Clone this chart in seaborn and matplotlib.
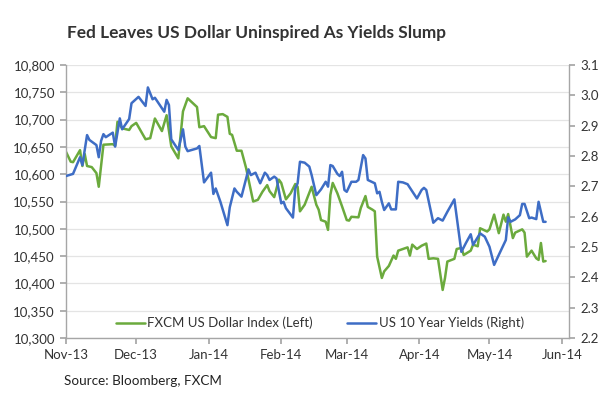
import pandas as pd
import seaborn as sns
import matplotlib.dates as mdates
from matplotlib import pyplot as plt
from matplotlib.ticker import FuncFormatter, MultipleLocator

# FXCM US Dollar Index (left axis)
usd_dates = [
    "2013-11-01", "2013-11-03", "2013-11-04", "2013-11-07", "2013-11-08", "2013-11-09",
    "2013-11-10", "2013-11-12", "2013-11-14", "2013-11-15", "2013-11-17", "2013-11-21",
    "2013-11-22", "2013-11-23", "2013-11-25", "2013-11-28", "2013-11-29", "2013-12-01",
    "2013-12-05", "2013-12-07", "2013-12-09", "2013-12-12", "2013-12-14", "2013-12-16",
    "2013-12-19", "2013-12-21", "2013-12-23", "2013-12-27", "2013-12-28", "2013-12-30",
    "2014-01-02", "2014-01-04", "2014-01-05", "2014-01-07", "2014-01-09", "2014-01-10",
    "2014-01-11", "2014-01-13", "2014-01-15", "2014-01-17", "2014-01-20", "2014-01-22",
    "2014-01-24", "2014-01-26", "2014-01-27", "2014-01-29", "2014-01-31", "2014-02-01",
    "2014-02-03", "2014-02-05", "2014-02-07", "2014-02-08", "2014-02-09", "2014-02-11",
    "2014-02-14", "2014-02-16", "2014-02-17", "2014-02-18", "2014-02-20", "2014-02-21",
    "2014-02-22", "2014-02-23", "2014-02-25", "2014-02-27", "2014-03-01", "2014-03-02",
    "2014-03-03", "2014-03-06", "2014-03-07", "2014-03-09", "2014-03-10", "2014-03-12",
    "2014-03-13", "2014-03-14", "2014-03-16", "2014-03-17", "2014-03-19", "2014-03-21",
    "2014-03-22", "2014-03-23", "2014-03-25", "2014-03-27", "2014-03-28", "2014-03-29",
    "2014-03-31", "2014-04-02", "2014-04-04", "2014-04-05", "2014-04-07", "2014-04-09",
    "2014-04-11", "2014-04-12", "2014-04-13", "2014-04-16", "2014-04-17", "2014-04-19",
    "2014-04-20", "2014-04-23", "2014-04-24", "2014-04-26", "2014-04-27", "2014-04-30",
    "2014-05-01", "2014-05-03", "2014-05-05", "2014-05-07", "2014-05-08", "2014-05-09",
    "2014-05-11", "2014-05-12", "2014-05-15", "2014-05-16", "2014-05-17", "2014-05-19",
    "2014-05-21", "2014-05-22", "2014-05-23", "2014-05-24", "2014-05-25",
]
usd_index = [
    10641, 10623, 10622, 10644, 10615, 10637, 10615, 10613, 10602, 10577, 10654, 10655,
    10652, 10696, 10684, 10681, 10688, 10694, 10664, 10666, 10702, 10679, 10708, 10651,
    10629, 10715, 10739, 10723, 10686, 10688, 10668, 10666, 10709, 10710, 10705, 10674,
    10672, 10643, 10643, 10611, 10550, 10553, 10568, 10580, 10569, 10558, 10590, 10584,
    10554, 10565, 10582, 10577, 10532, 10544, 10577, 10544, 10535, 10516, 10513, 10498,
    10562, 10584, 10565, 10541, 10516, 10515, 10522, 10521, 10538, 10560, 10540, 10535,
    10532, 10449, 10410, 10422, 10432, 10451, 10445, 10460, 10463, 10466, 10451, 10471,
    10463, 10469, 10473, 10445, 10446, 10445, 10388, 10410, 10440, 10445, 10463, 10465,
    10452, 10460, 10471, 10468, 10501, 10495, 10499, 10526, 10492, 10526, 10513, 10527,
    10483, 10493, 10499, 10493, 10449, 10460, 10446, 10443, 10474, 10440, 10441,
]

# US 10 Year Yields (right axis)
yield_dates = [
    "2013-11-01", "2013-11-04", "2013-11-07", "2013-11-08", "2013-11-10", "2013-11-11",
    "2013-11-14", "2013-11-15", "2013-11-16", "2013-11-17", "2013-11-18", "2013-11-21",
    "2013-11-22", "2013-11-24", "2013-11-25", "2013-11-28", "2013-11-29", "2013-12-02",
    "2013-12-05", "2013-12-06", "2013-12-08", "2013-12-09", "2013-12-13", "2013-12-14",
    "2013-12-15", "2013-12-16", "2013-12-19", "2013-12-21", "2013-12-22", "2013-12-23",
    "2013-12-27", "2013-12-28", "2013-12-30", "2014-01-02", "2014-01-03", "2014-01-04",
    "2014-01-06", "2014-01-09", "2014-01-10", "2014-01-12", "2014-01-13", "2014-01-15",
    "2014-01-18", "2014-01-19", "2014-01-21", "2014-01-23", "2014-01-25", "2014-01-26",
    "2014-01-27", "2014-01-29", "2014-01-30", "2014-02-01", "2014-02-02", "2014-02-03",
    "2014-02-06", "2014-02-07", "2014-02-08", "2014-02-09", "2014-02-11", "2014-02-13",
    "2014-02-14", "2014-02-16", "2014-02-18", "2014-02-20", "2014-02-21", "2014-02-22",
    "2014-02-23", "2014-02-25", "2014-02-26", "2014-02-27", "2014-02-28", "2014-03-01",
    "2014-03-03", "2014-03-05", "2014-03-06", "2014-03-08", "2014-03-09", "2014-03-10",
    "2014-03-13", "2014-03-14", "2014-03-15", "2014-03-16", "2014-03-17", "2014-03-19",
    "2014-03-20", "2014-03-22", "2014-03-23", "2014-03-25", "2014-03-27", "2014-03-31",
    "2014-04-02", "2014-04-03", "2014-04-04", "2014-04-07", "2014-04-09", "2014-04-11",
    "2014-04-13", "2014-04-16", "2014-04-19", "2014-04-21", "2014-04-23", "2014-04-24",
    "2014-04-27", "2014-04-29", "2014-05-01", "2014-05-03", "2014-05-05", "2014-05-08",
    "2014-05-09", "2014-05-10", "2014-05-12", "2014-05-14", "2014-05-15", "2014-05-16",
    "2014-05-18", "2014-05-19", "2014-05-21", "2014-05-22", "2014-05-24", "2014-05-25",
]
yields_10y = [
    2.734, 2.741, 2.796, 2.770, 2.869, 2.853, 2.836, 2.796, 2.850, 2.872, 2.862, 2.877,
    2.831, 2.924, 2.888, 2.922, 2.974, 2.995, 2.965, 3.026, 2.987, 2.992, 2.946, 2.985,
    2.968, 2.855, 2.820, 2.888, 2.831, 2.816, 2.825, 2.833, 2.713, 2.745, 2.675, 2.693,
    2.649, 2.572, 2.631, 2.693, 2.682, 2.666, 2.756, 2.737, 2.745, 2.710, 2.745, 2.737,
    2.721, 2.732, 2.726, 2.644, 2.649, 2.628, 2.597, 2.693, 2.710, 2.781, 2.778, 2.765,
    2.737, 2.671, 2.690, 2.715, 2.699, 2.770, 2.767, 2.741, 2.734, 2.748, 2.688, 2.682,
    2.715, 2.715, 2.721, 2.803, 2.792, 2.721, 2.710, 2.677, 2.682, 2.649, 2.622, 2.644,
    2.624, 2.624, 2.715, 2.713, 2.707, 2.660, 2.688, 2.695, 2.688, 2.580, 2.595, 2.587,
    2.616, 2.657, 2.484, 2.514, 2.542, 2.507, 2.545, 2.534, 2.501, 2.441, 2.474, 2.523,
    2.598, 2.583, 2.591, 2.605, 2.642, 2.642, 2.595, 2.597, 2.592, 2.649, 2.583, 2.583,
]

usd_label = "FXCM US Dollar Index (Left)"
yield_label = "US 10 Year Yields (Right)"
month_ticks = ["2013-11-01", "2013-12-01", "2014-01-01", "2014-02-01",
               "2014-03-01", "2014-04-01", "2014-05-01", "2014-06-01"]

GREEN = "#6BAA3D"
BLUE = "#3E6DC5"
AXIS_GREY = "#A6A6A6"
TEXT = "#333333"

usd = pd.DataFrame({"date": pd.to_datetime(usd_dates), "value": usd_index})
yld = pd.DataFrame({"date": pd.to_datetime(yield_dates), "value": yields_10y})

sns.set_theme(style="white")
plt.rcParams["font.family"] = ["Lato", "DejaVu Sans"]

fig = plt.figure(figsize=(6.15, 4.11), dpi=100)
ax = fig.add_axes([66 / 615, 1 - 338 / 411, (569 - 66) / 615, (338 - 65) / 411])
ax2 = ax.twinx()

sns.lineplot(data=usd, x="date", y="value", ax=ax, color=GREEN, lw=1.8, label=usd_label)
sns.lineplot(data=yld, x="date", y="value", ax=ax2, color=BLUE, lw=1.8, label=yield_label)

ax.set_xlim(pd.Timestamp("2013-11-01"), pd.Timestamp("2014-06-04"))
ax.set_ylim(10300, 10800)
ax2.set_ylim(2.2, 3.1)
ax.yaxis.set_major_locator(MultipleLocator(50))
ax2.yaxis.set_major_locator(MultipleLocator(0.1))
ax.yaxis.set_major_formatter(FuncFormatter(lambda v, p: f"{v:,.0f}"))
ax2.yaxis.set_major_formatter(FuncFormatter(lambda v, p: f"{v:.1f}"))
ax.set_xticks(pd.to_datetime(month_ticks))
ax.xaxis.set_major_formatter(mdates.DateFormatter("%b-%y"))

ax.set_xlabel("")
ax.set_ylabel("")
ax2.set_ylabel("")

ax.yaxis.grid(True, color="#E4E4E4", lw=0.9)
ax.xaxis.grid(False)
ax2.grid(False)

for a in (ax, ax2):
    a.spines["top"].set_visible(False)
    for s in ("left", "right", "bottom"):
        a.spines[s].set_color(AXIS_GREY)
        a.spines[s].set_linewidth(1.0)
ax.spines["right"].set_visible(False)
ax2.spines["left"].set_visible(False)
ax2.spines["bottom"].set_visible(False)

ax.tick_params(axis="y", left=True, length=4, color=AXIS_GREY, labelsize=9.5,
               labelcolor=TEXT, pad=4)
ax.tick_params(axis="x", bottom=True, length=4, color=AXIS_GREY, labelsize=9.5,
               labelcolor=TEXT, pad=4)
ax2.tick_params(axis="y", right=True, length=4, color=AXIS_GREY, labelsize=9.5,
                labelcolor=TEXT, pad=4)

h1, l1 = ax.get_legend_handles_labels()
h2, l2 = ax2.get_legend_handles_labels()
ax.get_legend().remove()
ax2.legend(h1 + h2, l1 + l2, loc="center", bbox_to_anchor=(0.505, 0.055), ncol=2,
           frameon=False, fontsize=9.5, handlelength=2.2, handletextpad=0.2,
           columnspacing=2.6, labelcolor=TEXT)

fig.text(67 / 615, 1 - 33 / 411, "Fed Leaves US Dollar Uninspired As Yields Slump",
         fontsize=12.4, fontweight="bold", color=TEXT, va="center", ha="left")
fig.text(64 / 615, 1 - 381 / 411, "Source: Bloomberg, FXCM", fontsize=9.7,
         color="#222222", va="center", ha="left")

fig.savefig("out.png", dpi=100, facecolor="white")
